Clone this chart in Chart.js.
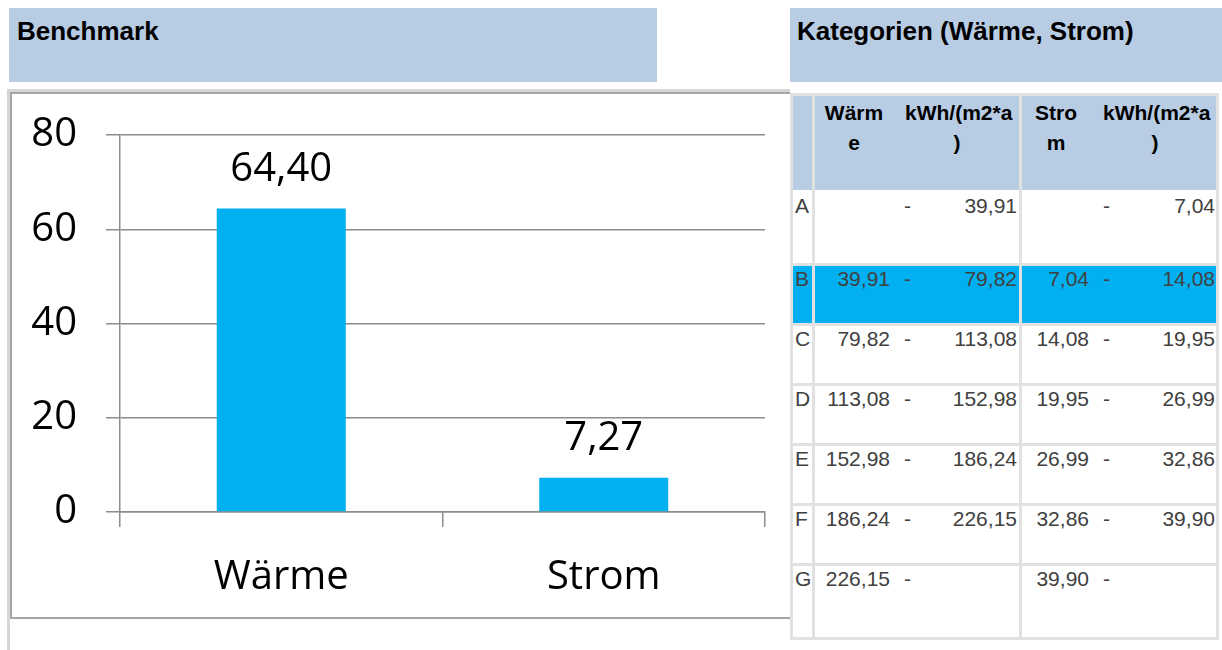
<!DOCTYPE html>
<html>
<head>
<meta charset="utf-8">
<title>Benchmark</title>
<script src="https://cdn.jsdelivr.net/npm/chart.js@4.4.0/dist/chart.umd.min.js"></script>
<style>
  body { margin: 0; width: 1222px; height: 650px; background: #fff; position: relative; overflow: hidden;
         font-family: "Liberation Sans", Arial, sans-serif; }
  .head { position: absolute; top: 8px; height: 74px; background: #b8cce4; box-sizing: border-box;
          font-weight: bold; font-size: 26px; line-height: 30px; color: #000; padding-top: 8px; }
  .frame-outer { position: absolute; left: 7px; top: 89px; width: 783px; height: 561px; box-sizing: border-box;
                 border-left: 3px solid #d6d6d6; border-top: 3px solid #d6d6d6; }
  .frame-inner { position: absolute; left: 10px; top: 92px; width: 780px; height: 527px; box-sizing: border-box;
                 border: 2px solid #a6a6a6; border-right: none; }
  #chartBox { position: absolute; left: 12px; top: 94px; }
  #tabelle { position: absolute; left: 790px; top: 93px; width: 429px; height: 547px; background: #e1e1e1; }
  .zelle { position: absolute; background: #fff; color: #404040; font-size: 21px; line-height: 24px; }
  .zelle span { position: absolute; white-space: nowrap; }
  .kopf { background: #b8cce4; color: #000; font-weight: bold; line-height: 30px; }
  .aktiv { background: #00b0f0; }
</style>
</head>
<body>

<div class="head" style="left:9px; width:648px; padding-left:8px;">Benchmark</div>
<div class="head" style="left:790px; width:432px; padding-left:7px;">Kategorien (Wärme, Strom)</div>

<div class="frame-outer"></div>
<div class="frame-inner"></div>
<div id="chartBox"><canvas id="benchmarkChart" width="778" height="522"></canvas></div>

<div id="tabelle"></div>

<script>
// Diagramm
const kategorien = ['Wärme', 'Strom'];
const werte = [64.40, 7.27];
const yTicks = [0, 20, 40, 60, 80];

// Tabelle der Kategorien
const klassen = ['A', 'B', 'C', 'D', 'E', 'F', 'G'];
const waermeVon = [null, 39.91, 79.82, 113.08, 152.98, 186.24, 226.15];
const waermeBis = [39.91, 79.82, 113.08, 152.98, 186.24, 226.15, null];
const stromVon = [null, 7.04, 14.08, 19.95, 26.99, 32.86, 39.90];
const stromBis = [7.04, 14.08, 19.95, 26.99, 32.86, 39.90, null];
const kopfzeile = ['Wärme', 'kWh/(m2*a)', 'Strom', 'kWh/(m2*a)'];
const aktiveKlasse = 'B';

const fmt = v => v == null ? '' : v.toFixed(2).replace('.', ',');
const gridGrau = '#8c8c8c';

const wertLabels = {
  id: 'wertLabels',
  afterDatasetsDraw(chart) {
    const c = chart.ctx;
    const meta = chart.getDatasetMeta(0);
    c.save();
    c.font = '40px "Open Sans"';
    c.fillStyle = '#000';
    c.textAlign = 'center';
    c.textBaseline = 'middle';
    meta.data.forEach((bar, i) => {
      c.fillText(fmt(werte[i]), bar.x, bar.y - 39);
    });
    c.restore();
  }
};

new Chart(document.getElementById('benchmarkChart'), {
  type: 'bar',
  data: {
    labels: kategorien,
    datasets: [{
      data: werte,
      backgroundColor: '#00b0f0',
      barPercentage: 0.4,
      categoryPercentage: 1
    }]
  },
  options: {
    responsive: false,
    animation: false,
    layout: { padding: { top: 41, right: 25, left: 0, bottom: 0 } },
    plugins: { legend: { display: false }, tooltip: { enabled: false } },
    scales: {
      x: {
        grid: { offset: true, drawOnChartArea: false, tickLength: 15, color: gridGrau, lineWidth: 1.5 },
        border: { color: gridGrau, width: 1.5 },
        ticks: { color: '#000', font: { family: 'Open Sans', size: 40 }, padding: 27 },
        afterFit: s => { s.height = 104; }
      },
      y: {
        min: 0,
        max: 80,
        afterBuildTicks: s => { s.ticks = yTicks.map(v => ({ value: v })); },
        grid: { color: gridGrau, lineWidth: 1.5, tickLength: 14 },
        border: { color: gridGrau, width: 1.5 },
        ticks: { color: '#000', font: { family: 'Open Sans', size: 40 }, padding: 29 },
        afterFit: s => { s.width = 108; s.paddingTop = 0; s.paddingBottom = 0; }
      }
    }
  },
  plugins: [wertLabels]
});

// Tabelle aufbauen
const tab = document.getElementById('tabelle');
const spalten = [{ left: 3, width: 19 }, { left: 25, width: 204 }, { left: 232, width: 194 }];
const zeilen = [{ top: 3, h: 94 }, { top: 97, h: 73 }];
for (let i = 1; i < klassen.length; i++) {
  const prev = zeilen[zeilen.length - 1];
  zeilen.push({ top: prev.top + prev.h + 3, h: i === klassen.length - 1 ? 71 : 57 });
}

function zelle(z, s, cls) {
  const d = document.createElement('div');
  d.className = 'zelle' + (cls ? ' ' + cls : '');
  d.style.left = spalten[s].left + 'px';
  d.style.width = spalten[s].width + 'px';
  d.style.top = zeilen[z].top + 'px';
  d.style.height = zeilen[z].h + 'px';
  tab.appendChild(d);
  return d;
}
function span(d, html, css) {
  const e = document.createElement('span');
  e.innerHTML = html;
  Object.assign(e.style, css);
  d.appendChild(e);
}
function umbruch(txt, n) { return txt.slice(0, n) + '<br>' + txt.slice(n); }

// Kopfzeile
zelle(0, 0, 'kopf');
let k = zelle(0, 1, 'kopf');
span(k, umbruch(kopfzeile[0], 4), { left: '0px', width: '78px', textAlign: 'center', top: '2px' });
span(k, umbruch(kopfzeile[1], 9), { left: '90px', width: '104px', textAlign: 'center', top: '2px' });
k = zelle(0, 2, 'kopf');
span(k, umbruch(kopfzeile[2], 4), { left: '0px', width: '68px', textAlign: 'center', top: '2px' });
span(k, umbruch(kopfzeile[3], 9), { left: '81px', width: '104px', textAlign: 'center', top: '2px' });

klassen.forEach((kl, i) => {
  const z = i + 1;
  const cls = kl === aktiveKlasse ? 'aktiv' : '';
  const top = (i === 0 ? 4 : 1) + 'px';
  const a = zelle(z, 0, cls);
  span(a, kl, { left: '2px', top });
  const w = zelle(z, 1, cls);
  span(w, fmt(waermeVon[i]), { right: (204 - 75) + 'px', top });
  span(w, '-', { left: '89px', top });
  span(w, fmt(waermeBis[i]), { right: '2px', top });
  const s = zelle(z, 2, cls);
  span(s, fmt(stromVon[i]), { right: (194 - 67) + 'px', top });
  span(s, '-', { left: '81px', top });
  span(s, fmt(stromBis[i]), { right: '1px', top });
});
</script>
</body>
</html>
